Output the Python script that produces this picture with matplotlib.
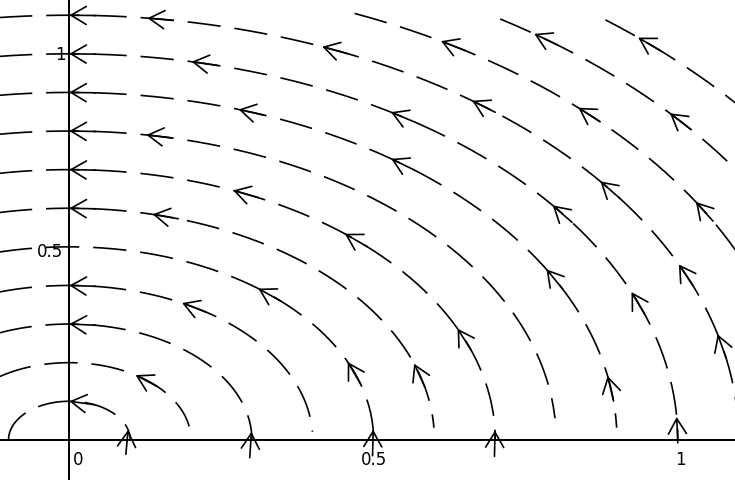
import numpy as np
import matplotlib
matplotlib.use('Agg')
import matplotlib.pyplot as plt
from matplotlib.patches import FancyArrowPatch

plt.rcParams['lines.scale_dashes'] = False

# circles (solution curves) and the angle span drawn for each, in degrees
radii = [0.1, 0.2, 0.3, 0.4, 0.5, 0.6, 0.7, 0.8, 0.9, 1.0, 1.1, 1.2, 1.3, 1.4]
arc_start = [0, 10, 0, 3, 0, 3, 0, 4, 2, 0, 0, 0, 0, 0]
arc_end = [180, 180, 180, 180, 180, 180, 180, 180, 180, 180, 180, 67, 57, 51]

# arrowheads: radius and angle (deg) of each tip
arrow_r = [0.1, 0.1,
           0.2,
           0.3, 0.3,
           0.4, 0.4,
           0.5, 0.5, 0.5,
           0.6, 0.6, 0.6,
           0.7, 0.7, 0.7, 0.7, 0.7,
           0.8, 0.8,
           0.9, 0.9, 0.9, 0.9, 0.9,
           1.0, 1.0, 1.0, 1.0, 1.0, 1.0,
           1.1, 1.1, 1.1, 1.1, 1.1, 1.1, 1.1,
           1.2, 1.2, 1.2,
           1.3, 1.3,
           1.4]
arrow_deg = [90, 15,
             57,
             90, 4,
             90, 62.4,
             51.6, 23.8, 3,
             90, 76.8, 19.2,
             90, 67.4, 49.7, 24.3, 2,
             90, 80.9,
             90, 72, 54, 29.4, 10.6,
             90, 78.4, 58.1, 37.4, 22.5, 3.4,
             90, 83.3, 67.8, 53, 37.5, 24.4, 14.4,
             59.4, 45.8, 30.9,
             54, 40.6,
             48.1]

tick_text = ['0', '0.5', '1']

xmin, xmax = -0.114, 1.094
ymin, ymax = -0.104, 1.142

fig = plt.figure(figsize=(7.35, 4.81), dpi=100)
ax = fig.add_axes([0, 0, 1, 1])
ax.set_xlim(xmin, xmax)
ax.set_ylim(ymin, ymax)
ax.axis('off')

ax.axhline(0, color='black', lw=1.4)
ax.axvline(0, color='black', lw=1.4)

for r, a0, a1 in zip(radii, arc_start, arc_end):
    t = np.radians(np.linspace(a1, a0, 600))
    ax.plot(r * np.cos(t), r * np.sin(t), color='black', lw=1.2,
            dashes=(24, 10))

# pixels per data unit, used to keep arrow shafts a similar length on screen
sx = 735 / (xmax - xmin)
sy = 481 / (ymax - ymin)
for r, d in zip(arrow_r, arrow_deg):
    th = np.radians(d)
    speed = r * np.hypot(sx * np.sin(th), sy * np.cos(th))
    dth = 26 / speed
    tail = (r * np.cos(th - dth), r * np.sin(th - dth))
    tip = (r * np.cos(th), r * np.sin(th))
    ax.add_patch(FancyArrowPatch(tail, tip,
                                 arrowstyle='->,head_length=11,head_width=6.5',
                                 mutation_scale=1, lw=1.2, color='black',
                                 shrinkA=0, shrinkB=0))

# axis labels
ax.text(0.015, -0.049, tick_text[0], ha='center', va='center', fontsize=12)
ax.text(0.5, -0.049, tick_text[1], ha='center', va='center', fontsize=12)
ax.text(1.005, -0.049, tick_text[2], ha='center', va='center', fontsize=12)
ax.text(-0.010, 0.49, tick_text[1], ha='right', va='center', fontsize=12)
ax.text(-0.006, 1.0, tick_text[2], ha='right', va='center', fontsize=12)

fig.savefig('out.png', dpi=100)
